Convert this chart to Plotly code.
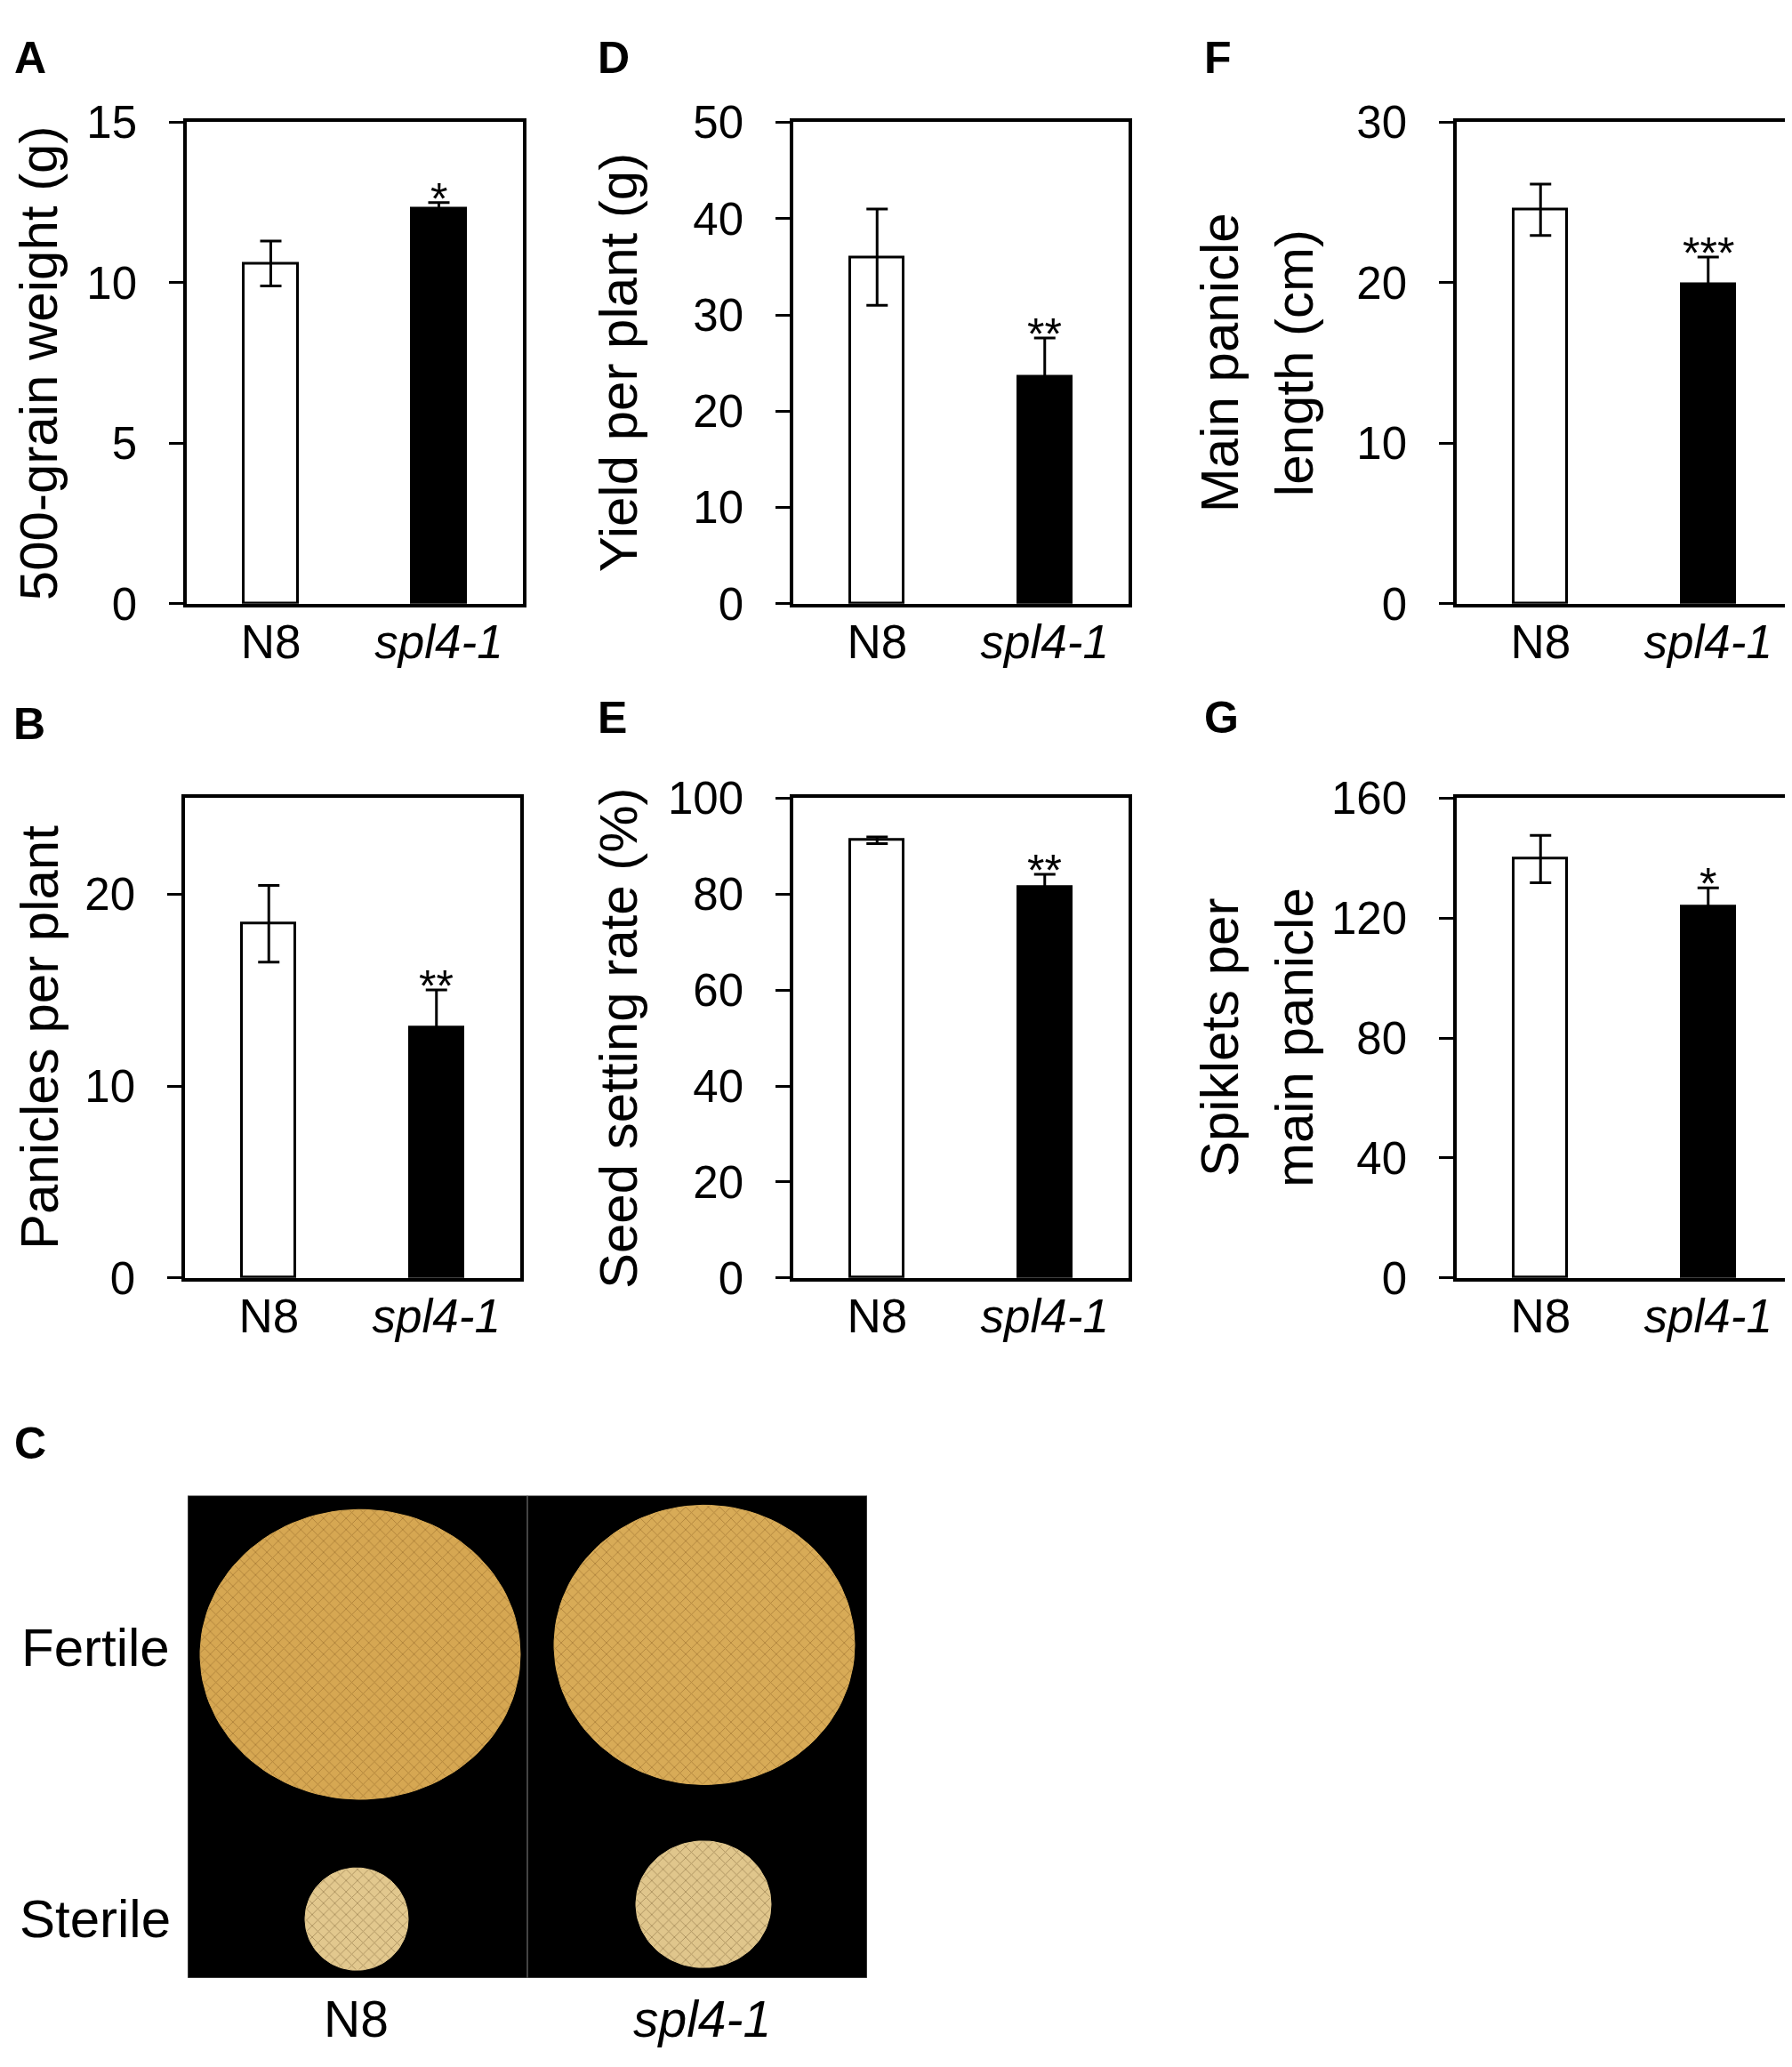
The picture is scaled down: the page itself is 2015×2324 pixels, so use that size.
import numpy as np
import plotly.graph_objects as go

# ---------------- data ----------------
categories = ["N8", "spl4-1"]
category_ticktext = ["N8", "<i>spl4-1</i>"]

grain_weight = [10.6, 12.3]          # A: 500-grain weight (g)
grain_weight_err = [0.7, 0.2]
yield_per_plant = [36.0, 23.6]       # D: Yield per plant (g)
yield_per_plant_err = [5.0, 4.0]
panicle_length = [24.55, 19.9]       # F: Main panicle length (cm)
panicle_length_err = [1.6, 1.7]
panicles_per_plant = [18.45, 13.05]  # B: Panicles per plant
panicles_per_plant_err = [2.0, 1.95]
seed_setting = [91.2, 81.5]          # E: Seed setting rate (%)
seed_setting_err = [0.7, 2.6]
spiklets = [139.7, 123.8]            # G: Spiklets per main panicle
spiklets_err = [7.9, 6.3]

significance = {"A": "*", "D": "**", "F": "***", "B": "**", "E": "**", "G": "*"}

# ---------------- layout helpers ----------------
W, H = 2015, 2324
FONT = "Liberation Sans, Arial, Helvetica, sans-serif"


def fx(px):
    return px / W


def fy(py):
    return 1 - py / H


# panel geometry in pixels: (x0, x1, y0, y1)
panels = {
    "A": dict(ax="", box=(202, 580, 104, 659), rng=[0, 15], dtick=5,
              vals=grain_weight, err=grain_weight_err,
              title=["500-grain weight (g)"], tx=[35], letter=(6, 30)),
    "D": dict(ax="2", box=(884, 1261, 104, 659), rng=[0, 50], dtick=10,
              vals=yield_per_plant, err=yield_per_plant_err,
              title=["Yield per plant (g)"], tx=[687], letter=(662, 30)),
    "F": dict(ax="3", box=(1630, 2007, 104, 659), rng=[0, 30], dtick=10,
              vals=panicle_length, err=panicle_length_err,
              title=["Main panicle", "length (cm)"], tx=[1363, 1447], letter=(1344, 30)),
    "B": dict(ax="4", box=(200, 577, 883, 1436), rng=[0, 25], dtick=10,
              vals=panicles_per_plant, err=panicles_per_plant_err,
              title=["Panicles per plant"], tx=[36], letter=(5, 798)),
    "E": dict(ax="5", box=(884, 1261, 883, 1436), rng=[0, 100], dtick=20,
              vals=seed_setting, err=seed_setting_err,
              title=["Seed setting rate (%)"], tx=[687], letter=(662, 790)),
    "G": dict(ax="6", box=(1630, 2007, 883, 1436), rng=[0, 160], dtick=40,
              vals=spiklets, err=spiklets_err,
              title=["Spiklets per", "main panicle"], tx=[1363, 1447], letter=(1344, 790)),
}

fig = go.Figure()
annotations = []
layout_axes = {}

for key, p in panels.items():
    ax = p["ax"]
    x0, x1, y0, y1 = p["box"]
    xname = "x" + ax
    yname = "y" + ax
    fig.add_trace(go.Bar(
        x=categories, y=p["vals"],
        error_y=dict(type="data", array=p["err"], visible=True,
                     color="black", thickness=3, width=12),
        marker=dict(color=["white", "black"], line=dict(color="black", width=3)),
        width=0.32, xaxis=xname, yaxis=yname, showlegend=False,
        hoverinfo="skip",
    ))
    layout_axes["xaxis" + ax] = dict(
        domain=[fx(x0), fx(x1)], anchor=yname, range=[-0.5, 1.5],
        type="category", tickvals=categories, ticktext=category_ticktext,
        showline=True, linecolor="black", linewidth=3.5, mirror=True,
        ticks="", ticklen=0, showgrid=False, zeroline=False,
        tickfont=dict(family=FONT, size=53, color="black"),
        ticklabelstandoff=-6,
    )
    layout_axes["yaxis" + ax] = dict(
        domain=[fy(y1), fy(y0)], anchor=xname, range=p["rng"], dtick=p["dtick"],
        tick0=0, showline=True, linecolor="black", linewidth=3.5, mirror=True,
        ticks="outside", ticklen=16, tickwidth=3, tickcolor="black",
        showgrid=False, zeroline=False,
        tickfont=dict(family=FONT, size=51, color="black"),
        ticklabelstandoff=26,
    )
    # significance stars
    annotations.append(dict(
        x=categories[1], y=p["vals"][1] + p["err"][1], xref=xname, yref=yname,
        text=significance[key], showarrow=False, yanchor="bottom", yshift=-26,
        font=dict(family=FONT, size=50, color="black"),
    ))
    # y titles
    for line, tx in zip(p["title"], p["tx"]):
        annotations.append(dict(
            x=fx(tx), y=fy((y0 + y1) / 2), xref="paper", yref="paper",
            text=line, textangle=-90, showarrow=False,
            xanchor="center", yanchor="middle",
            font=dict(family=FONT, size=60, color="black"),
        ))
    # panel letter
    lx, ly = p["letter"]
    annotations.append(dict(
        x=fx(lx), y=fy(ly), xref="paper", yref="paper", text="<b>" + key + "</b>",
        showarrow=False, xanchor="left", yanchor="middle",
        font=dict(family=FONT, size=50, color="black"),
    ))

# ---------------- panel C (grain photograph) ----------------
photo_box = (203, 967, 1687, 2243)
photo_divider = 585
# grain piles: (centre x, centre y, radius x, radius y, fill, texture)
grain_piles = [
    (397, 1870, 180, 167, "#d6a752", "#8a5f22"),   # N8 fertile
    (784, 1859, 169, 161, "#d8ab57", "#8a5f22"),   # spl4-1 fertile
    (393, 2175, 58, 59, "#e2c88e", "#7a5e33"),     # N8 sterile
    (783, 2158, 76, 73, "#e0c68c", "#7a5e33"),     # spl4-1 sterile
]

px0, px1, py0, py1 = photo_box
layout_axes["xaxis7"] = dict(domain=[fx(px0), fx(px1)], range=[px0, px1], anchor="y7",
                             visible=False, fixedrange=True)
layout_axes["yaxis7"] = dict(domain=[fy(py1), fy(py0)], range=[py1, py0], anchor="x7",
                             visible=False, fixedrange=True)

shapes = [
    dict(type="rect", xref="x7", yref="y7", x0=px0, x1=px1, y0=py0, y1=py1,
         fillcolor="black", line=dict(color="#6a6a6a", width=1), layer="below"),
    dict(type="line", xref="x7", yref="y7", x0=photo_divider, x1=photo_divider,
         y0=py0, y1=py1, line=dict(color="#5a5a5a", width=1.5), layer="below"),
]

theta = np.linspace(0, 2 * np.pi, 120)
for cx, cy, rx, ry, fill, tex in grain_piles:
    fig.add_trace(go.Scatter(
        x=cx + rx * np.cos(theta), y=cy + ry * np.sin(theta),
        xaxis="x7", yaxis="y7", mode="lines", fill="toself",
        line=dict(color=fill, width=1), fillcolor=fill,
        fillpattern=dict(shape="x", bgcolor=fill, fgcolor=tex, size=9, solidity=0.2),
        showlegend=False, hoverinfo="skip",
    ))

photo_labels = [
    dict(text="<b>C</b>", x=6, y=1627, size=50, anchor="left"),
    dict(text="Fertile", x=14, y=1862, size=60, anchor="left"),
    dict(text="Sterile", x=12, y=2175, size=60, anchor="left"),
    dict(text="N8", x=392, y=2290, size=57, anchor="center"),
    dict(text="<i>spl4-1</i>", x=781, y=2290, size=57, anchor="center"),
]
for lab in photo_labels:
    annotations.append(dict(
        x=fx(lab["x"]), y=fy(lab["y"]), xref="paper", yref="paper", text=lab["text"],
        showarrow=False, xanchor=lab["anchor"], yanchor="middle",
        font=dict(family=FONT, size=lab["size"], color="black"),
    ))

fig.update_layout(
    width=W, height=H, margin=dict(l=0, r=0, t=0, b=0),
    paper_bgcolor="white", plot_bgcolor="white",
    annotations=annotations, shapes=shapes, bargap=0,
    **layout_axes,
)

fig.write_html("out.html")
